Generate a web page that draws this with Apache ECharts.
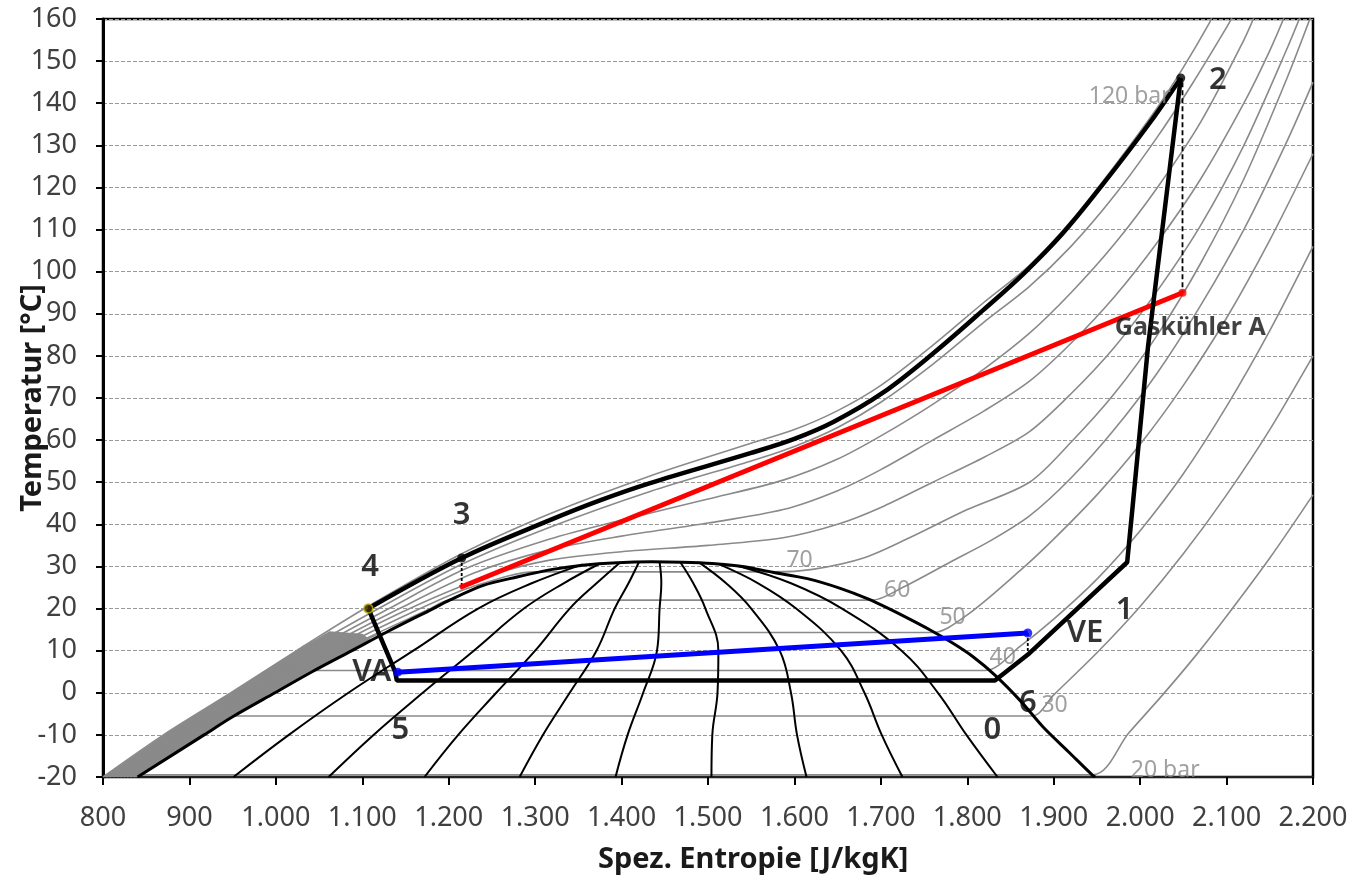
<!DOCTYPE html>
<html><head><meta charset="utf-8">
<script src="https://cdn.jsdelivr.net/npm/echarts/dist/echarts.min.js"></script>
<style>html,body{margin:0;padding:0;background:#fff}#c{width:1353px;height:883px}</style>
</head><body><div id="c"></div>
<script>
// ---- axes ----
const entropyTicks = [800,900,1000,1100,1200,1300,1400,1500,1600,1700,1800,1900,2000,2100,2200];
const tempTicks = [-20,-10,0,10,20,30,40,50,60,70,80,90,100,110,120,130,140,150,160];

// ---- saturation dome ----
const liquidLine = [[840,-20],[917,-10],[950,-5.7],[999,0],[1043,5.1],[1088,10],[1129,14.5],[1182,20],[1201,22],[1240,25.5],[1279,27.5],[1320,29.3],[1355,30.3],[1395,30.9],[1435,31.1]];
const vaporLine = [[1435,31.1],[1470,31],[1505,30.7],[1540,30],[1575,28.6],[1615,27.1],[1653,24.8],[1685,22.3],[1711,19.8],[1735,17.3],[1757,14.9],[1783,11.8],[1807,8.5],[1832,4.2],[1861,-1.8],[1888,-8.2],[1917,-14],[1945,-19.6],[1948,-20]];
// compressed-liquid band (dense isobars)
const liquidBand = [[800,-20],[870,-10],[948,0],[1024,10],[1062,14.6],[1100,14],[1110,12.4],[1088,10],[1043,5.1],[999,0],[950,-5.7],[917,-10],[840,-20]];

// ---- quality lines x = 0.1 ... 0.9 ----
const q10 = [[951,-20],[1015,-10],[1084,0],[1159,10],[1234,20],[1296,26],[1355,30.5]];
const q20 = [[1061,-20],[1113,-10],[1170,0],[1229,10],[1287,20],[1333,26],[1375,30.7]];
const q30 = [[1172,-20],[1211,-10],[1255,0],[1300,10],[1340,20],[1371,26],[1398,30.9]];
const q40 = [[1282,-20],[1309,-10],[1340,0],[1371,10],[1392,20],[1408,26],[1420,31]];
const q50 = [[1393,-20],[1407,-10],[1425,0],[1441,10],[1444,20],[1446,26],[1444,31]];
const q60 = [[1504,-20],[1505,-10],[1511,0],[1512,10],[1497,20],[1483,26],[1468,31]];
const q70 = [[1614,-20],[1603,-10],[1596,0],[1583,10],[1550,20],[1521,26],[1490,30.9]];
const q80 = [[1725,-20],[1701,-10],[1681,0],[1654,10],[1602,20],[1558,26],[1512,30.6]];
const q90 = [[1835,-20],[1799,-10],[1766,0],[1724,10],[1655,20],[1596,26],[1535,30.1]];

// ---- isobars (bar) ----
const iso20 = [[840,-20],[844,-19.5],[1945,-19.5],[1987,-9.5],[2026,-0.5],[2065,9],[2103,19],[2150,32],[2200,47]];
const iso30 = [[836,-20],[915,-10],[950,-5.5],[1875,-5.5],[1900,-0.5],[1950,9.5],[2000,20.5],[2050,33],[2100,47],[2150,62.5],[2200,80]];
const iso40 = [[832,-20],[910,-10],[996,0],[1043,5.3],[1821,5.3],[1861,11],[1900,17.5],[1950,27],[2000,38.5],[2050,52],[2100,68],[2150,86],[2200,106]];
const iso50 = [[828,-20],[905,-10],[990,0],[1084,10],[1129,14.3],[1760,14.3],[1800,18.5],[1861,29],[1900,36.5],[1950,47],[2000,59],[2050,73],[2100,89],[2150,107.5],[2200,128]];
const iso60 = [[824,-20],[900,-10],[984,0],[1075,10],[1179,20],[1201,22],[1690,22],[1725,25],[1780,31],[1826,36],[1872,42],[1920,51],[1970,62.5],[2020,76],[2070,92],[2120,110],[2170,131],[2200,145]];
const iso70 = [[820,-20],[895,-10],[978,0],[1067,10],[1167,20],[1225,25],[1300,28.7],[1575,28.7],[1621,29.3],[1680,32],[1730,36.5],[1800,43.5],[1872,50],[1920,59.5],[1970,71],[2020,85],[2070,102],[2120,122],[2170,146],[2200,162]];
const iso80 = [[816,-20],[890,-10],[972,0],[1058,10],[1155,20],[1250,28],[1317,31.5],[1400,33.5],[1500,35],[1587,36.8],[1650,40],[1700,44],[1760,50],[1820,56],[1872,62],[1920,71],[1970,82],[2020,95.5],[2070,111],[2120,130],[2170,153],[2190,163]];
const iso90 = [[812,-20],[885,-10],[966,0],[1050,10],[1143,20],[1230,28.5],[1317,34],[1400,37.2],[1500,40.3],[1587,43.5],[1650,48],[1700,53],[1760,60],[1820,67],[1872,74],[1920,83],[1970,94],[2020,107],[2070,122],[2120,140],[2150,152.5],[2172,163]];
const iso100 = [[808,-20],[880,-10],[960,0],[1041,10],[1131,20],[1220,29.5],[1317,36.5],[1400,41],[1500,46],[1587,50.5],[1650,55.5],[1700,61],[1760,68.5],[1820,77],[1872,85.4],[1920,95],[1970,106.5],[2020,120],[2070,135.5],[2120,155],[2135,162]];
const iso110 = [[804,-20],[875,-10],[954,0],[1033,10],[1119,20],[1215,30.5],[1317,39.3],[1433,47.8],[1549,55],[1600,58.5],[1650,63],[1700,69],[1760,78],[1818,87.8],[1872,96.5],[1920,106],[1970,118],[2020,132],[2060,144.5],[2100,158],[2108,161]];
const iso120 = [[800,-20],[870,-10],[948,0],[1024,10],[1105,20.3],[1215,33],[1317,42.5],[1433,51.5],[1549,59.2],[1600,62.5],[1650,67],[1700,73],[1760,82.5],[1818,92.5],[1872,101.5],[1920,112],[1970,125],[2020,139],[2050,148.5],[2080,159],[2084,161]];

// ---- cycle ----
const cycleHigh = [[2047,146],[2011,135.3],[1954,120],[1910,109],[1865,99.5],[1818,90.8],[1760,80.5],[1702,71.2],[1645,64.3],[1600,60.3],[1549,56.9],[1433,49.8],[1375,45.7],[1317,41],[1215,32],[1107,20]];
const cycleLow = [[1107,20],[1138,5],[1140,2.9],[1832,2.9],[1872,9.4],[1985,31],[1992,45.7],[2009,82],[2047,146]];
const gasCooler = [[1213,25],[2049,95]];
const evaporator = [[1141,4.9],[1870,14.2]];
const dash2 = [[2049,145],[2049,95]];
const dash3 = [[1215,32],[1215,25]];
const dashVE = [[1870,14.2],[1870,9.6]];
const blackDots = [[2047,146],[1215,32]];
const point4 = [[1107,20]];
const blueDots = [[1141,4.9],[1870,14.2]];
const redDots = [[2049,95]];

// ---- labels ----
const pointLabels = [[2090,145.5,'2'],[1982,19.6,'1'],[1936,14.2,'VE'],[1870,-2.5,'6'],[1829,-8.9,'0'],[1144,-8.9,'5'],[1111,5,'VA'],[1109,29.8,'4'],[1215,42.2,'3']];
const coolerLabel = [[2058,86.6,'Gaskühler A']];
const isobarLabels = [[1606,31.5,'70'],[1719,24.4,'60'],[1783,18,'50'],[1841,8.5,'40'],[1901,-3,'30'],[2029,-18.4,'20 bar'],[1988,141.5,'120 bar']];

const FONT = 'Noto Sans';
const chart = echarts.init(document.getElementById('c'), null, {renderer:'canvas'});

function line(data, color, width, z, extra) {
  return Object.assign({type:'line', data, showSymbol:false, symbol:'none', silent:true, z,
    lineStyle:{color, width}, animation:false}, extra||{});
}
const isoList = [iso20, iso30, iso40, iso50, iso60, iso70, iso80, iso90, iso100, iso110, iso120];
const qList = [q10,q20,q30,q40,q50,q60,q70,q80,q90];
const series = [];
series.push({type:'custom', data:[liquidBand[0]], z:1, silent:true, animation:false,
  renderItem:(params, api) => ({type:'polygon', shape:{points: liquidBand.map(p => api.coord(p))}, style:{fill:'#8a8a8a'}})});
isoList.forEach(d => series.push(line(d, '#8a8a8a', 1.6, 2, {smooth:0.3})));
qList.forEach(d => series.push(line(d, '#000', 2, 4, {smooth:0.4})));
series.push(line(liquidLine.concat(vaporLine.slice(1)), '#000', 3, 5, {smooth:0.3}));
series.push(line(gasCooler, '#ff0000', 5, 7));
series.push(line(evaporator, '#0000ff', 5, 7));
series.push(line(cycleHigh, '#000', 4.5, 8, {smooth:0.35}));
series.push(line(cycleLow, '#000', 4.5, 8));
series.push(line(dash2, '#000', 1.8, 6, {lineStyle:{color:'#000', width:1.8, type:[5,3]}}));
series.push(line(dash3, '#000', 1.8, 6, {lineStyle:{color:'#000', width:1.8, type:[3,2]}}));
series.push(line(dashVE, '#000', 1.8, 6, {lineStyle:{color:'#000', width:1.8, type:[3,2]}}));
series.push({type:'scatter', data:blackDots, symbolSize:9, itemStyle:{color:'#000'}, z:9, silent:true, animation:false});
series.push({type:'scatter', data:point4, symbolSize:9, itemStyle:{color:'#3a3000', borderColor:'#c8b400', borderWidth:1.5}, z:9, silent:true, animation:false});
series.push({type:'scatter', data:blueDots, symbolSize:9, itemStyle:{color:'#0000ff'}, z:9, silent:true, animation:false});
series.push({type:'scatter', data:redDots, symbolSize:8, itemStyle:{color:'#ff0000'}, z:9, silent:true, animation:false});
function labelSeries(data, style, z) {
  return {type:'scatter', data, symbolSize:0, z, silent:true, animation:false,
    label:{show:true, position:'inside', formatter:p=>p.data[2], ...style}};
}
series.push(labelSeries(pointLabels, {color:'#000', fontSize:31, fontFamily:FONT, fontWeight:600}, 10));
series.push(labelSeries(coolerLabel, {color:'#111', fontSize:25, fontFamily:FONT, fontWeight:'bold'}, 10));
series.push(labelSeries(isobarLabels, {color:'#888', fontSize:23, fontFamily:FONT}, 10));

const fmtX = v => v >= 1000 ? String(v).replace(/(\d)(\d{3})$/, '$1.$2') : String(v);

chart.setOption({
  backgroundColor:'#fff',
  animation:false,
  grid:{left:103, right:40, top:19, bottom:106, containLabel:false, outerBoundsMode:'none', show:true, borderColor:'#000', borderWidth:2.5},
  xAxis:{type:'value', min:entropyTicks[0], max:entropyTicks[entropyTicks.length-1], interval:entropyTicks[1]-entropyTicks[0],
    axisLine:{show:true, onZero:false, lineStyle:{color:'#222', width:2}},
    axisTick:{show:true, inside:false, length:8, lineStyle:{color:'#000', width:2}},
    axisLabel:{color:'#404040', fontSize:27, fontFamily:FONT, margin:28, formatter:fmtX},
    splitLine:{show:false}},
  yAxis:{type:'value', min:tempTicks[0], max:tempTicks[tempTicks.length-1], interval:tempTicks[1]-tempTicks[0],
    name:'Temperatur [°C]', nameLocation:'middle', nameGap:56, nameRotate:90, nameMoveOverlap:false,
    nameTextStyle:{color:'#1a1a1a', fontSize:29, fontWeight:'bold', fontFamily:FONT},
    axisLine:{show:true, onZero:false, lineStyle:{color:'#000', width:3}},
    axisTick:{show:true, inside:false, length:7, lineStyle:{color:'#000', width:2}},
    axisLabel:{color:'#404040', fontSize:27, fontFamily:FONT, margin:26},
    splitLine:{show:true, lineStyle:{color:'#9a9a9a', width:1.2, type:[4,2]}}},
  graphic:[{type:'text', left:598, top:845, style:{text:'Spez. Entropie [J/kgK]', fill:'#1a1a1a', font:'bold 29px "Noto Sans"'}}],
  series
});
</script></body></html>
